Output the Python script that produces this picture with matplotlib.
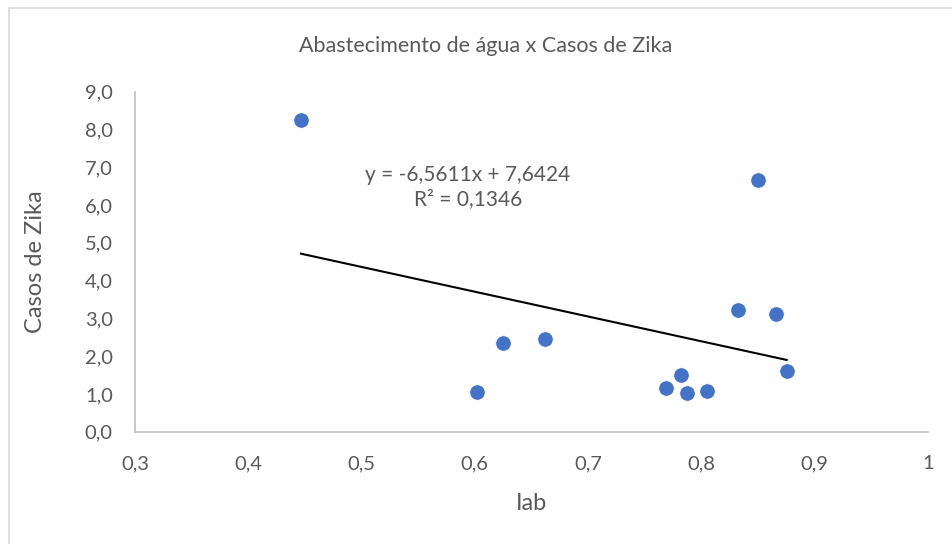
import matplotlib.pyplot as plt
import matplotlib.patches as mpatches
import numpy as np

plt.rcParams['font.family'] = ['Lato', 'DejaVu Sans']

# Data
iab = [0.4465, 0.6022, 0.6251, 0.6619, 0.7687, 0.7820, 0.7870, 0.8046, 0.8325, 0.8499, 0.8658, 0.8752]
casos = [8.25, 1.05, 2.34, 2.45, 1.15, 1.50, 1.02, 1.08, 3.22, 6.66, 3.11, 1.61]
slope = -6.5611
intercept = 7.6424
r2 = 0.1346

xticks = [0.3, 0.4, 0.5, 0.6, 0.7, 0.8, 0.9, 1.0]
xtick_labels = ['0,3', '0,4', '0,5', '0,6', '0,7', '0,8', '0,9', '1']
yticks = np.arange(0, 10, 1)
ytick_labels = [f"{v:.1f}".replace('.', ',') for v in yticks]

text_color = '#595959'
axis_color = '#BFBFBF'

fig = plt.figure(figsize=(9.52, 5.44), dpi=100)
ax = fig.add_axes([0.1418, 0.2064, 0.9748 - 0.1418, 0.8314 - 0.2064])

# chart border
fig.patches.append(mpatches.Rectangle((9 / 952, -0.1), 1.2, 1 - 8 / 544 + 0.1,
                                      transform=fig.transFigure, fill=False,
                                      edgecolor='#D9D9D9', linewidth=1.2))

ax.scatter(iab, casos, s=125, color='#4472C4', edgecolors='white', linewidths=0.6, zorder=3)

# linear trendline
tx = np.array([min(iab), max(iab)])
ax.plot(tx, slope * tx + intercept, color='black', linewidth=1.5, zorder=2)

ax.set_xlim(0.3, 1.0)
ax.set_ylim(0, 9)
ax.set_xticks(xticks)
ax.set_xticklabels(xtick_labels)
ax.set_yticks(yticks)
ax.set_yticklabels(ytick_labels)
ax.tick_params(length=0, labelsize=14.5, labelcolor=text_color)
ax.tick_params(axis='x', pad=17)
ax.tick_params(axis='y', pad=16)

for side in ['top', 'right']:
    ax.spines[side].set_visible(False)
for side in ['left', 'bottom']:
    ax.spines[side].set_color(axis_color)
    ax.spines[side].set_linewidth(1.2)

ax.text(0.42, 0.72, "y = -6,5611x + 7,6424\nR² = 0,1346", transform=ax.transAxes,
        ha='center', va='center', fontsize=15, color=text_color, linespacing=1.25)

fig.text(486 / 952, 1 - 46 / 544, 'Abastecimento de água x Casos de Zika',
         ha='center', va='center', fontsize=15.5, color=text_color)
fig.text(532 / 952, 1 - 503 / 544, 'Iab', ha='center', va='center',
         fontsize=17, color=text_color)
fig.text(36 / 952, 1 - 262 / 544, 'Casos de Zika', ha='center', va='center',
         rotation=90, fontsize=17, color=text_color)

fig.savefig('out.png', dpi=100)
